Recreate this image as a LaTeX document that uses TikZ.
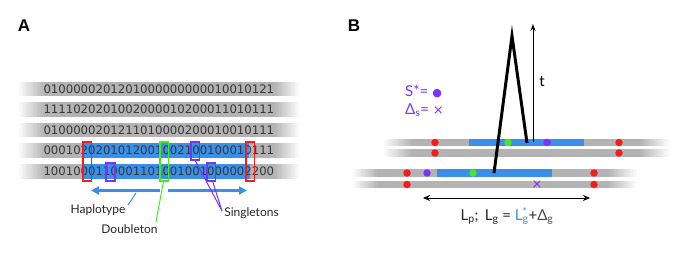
\documentclass[tikz,border=0pt]{standalone}
\usepackage{fontspec}
\usepackage{graphicx}
\setmainfont{Lato}
\newfontfamily\digitfont{DejaVu Sans}
\newfontfamily\symfont{DejaVu Sans}
\newfontfamily\headfont{Liberation Sans}
\usetikzlibrary{arrows.meta}
\definecolor{bargrey}{RGB}{179,179,179}
\definecolor{hapblue}{RGB}{58,143,232}
\definecolor{mkred}{RGB}{240,30,30}
\definecolor{mkgreen}{RGB}{70,235,35}
\definecolor{mkpurple}{RGB}{125,50,250}
\definecolor{digitgrey}{RGB}{55,55,55}
\tikzset{
  digitrow/.style={anchor=west,inner sep=0pt,text=digitgrey,font=\digitfont\fontsize{11.7}{12}\selectfont},
  markbox/.style={line width=1.3pt},
  lbl/.style={inner sep=0pt,font=\fontsize{12}{14}\selectfont,text=black!85},
  blbl/.style={inner sep=0pt,font=\fontsize{15}{17}\selectfont},
  panel/.style={inner sep=0pt,font=\headfont\bfseries\fontsize{17}{19}\selectfont},
  bluearrow/.style={hapblue,line width=2.4pt,-{Triangle[length=8pt,width=8pt]}},
  dot/.style={circle,inner sep=0pt,minimum size=7.5pt},
  lineage/.style={line width=3pt,line join=miter},
}
% #1 fade start, #2 solid start, #3 solid end, #4 fade end, #5 y centre, #6 half height
\newcommand\mygradbar[6]{%
  \fill[bargrey] (#2,#5-#6) rectangle (#3,#5+#6);
  \foreach \i in {0,...,19} {
    \pgfmathsetmacro\pa{5*\i+2.5}
    \fill[bargrey!\pa!white] ({#1+(#2-#1)*\i/20},#5-#6) rectangle ({#1+(#2-#1)*(\i+1)/20+0.3},#5+#6);
    \fill[bargrey!\pa!white] ({#4-(#4-#3)*\i/20},#5-#6) rectangle ({#4-(#4-#3)*(\i+1)/20-0.3},#5+#6);
  }%
}
\begin{document}
\begin{tikzpicture}[x=1pt,y=-1pt]
\useasboundingbox (0,0) rectangle (681,256);
% ---------------- Panel A ----------------
\node[panel] (labA) at (24,26) {A};
\mygradbar{18}{45}{274}{300}{89}{7.25}
\mygradbar{18}{45}{274}{300}{109.5}{7.25}
\mygradbar{18}{45}{274}{300}{130}{7.25}
\mygradbar{18}{45}{274}{300}{150.5}{7.25}
\mygradbar{18}{45}{274}{300}{171.5}{7.25}
\fill[hapblue] (84,150.5-7.25) rectangle (249,150.5+7.25);
\fill[hapblue] (84,171.5-7.25) rectangle (250,171.5+7.25);
\node[digitrow] (r1) at (43.3,89)    {0100000201201000000000010010121};
\node[digitrow] (r2) at (43.3,109.5) {1111020201002000010200011010111};
\node[digitrow] (r3) at (43.3,130)   {0100000201211010000200010010111};
\node[digitrow] (r4) at (43.3,150.5) {0001020201012001002100100010111};
\node[digitrow] (r5) at (43.3,171.5) {1001000110001101001001000002200};
% boxes
\draw[markbox,mkred] (83,142) rectangle (91.5,181);
\draw[markbox,mkred] (246,142) rectangle (254.7,181);
\draw[markbox,mkgreen] (160,142) rectangle (168.5,181);
\draw[markbox,mkpurple] (191,142) rectangle (199.5,160);
\draw[markbox,mkpurple] (106,163) rectangle (115,181);
\draw[markbox,mkpurple] (207,163) rectangle (215.5,181);
\coordinate (gbox) at (163.5,181);
\coordinate (pbox1) at (195,160);
\coordinate (pbox2) at (212.5,181);
% haplotype arrows
\coordinate (hapL) at (91,190.5);
\coordinate (hapM1) at (160,190.5);
\coordinate (hapM2) at (168,190.5);
\coordinate (hapR) at (247,190.5);
\draw[bluearrow] (hapM1) -- (hapL);
\draw[bluearrow] (hapM2) -- (hapR);
% labels
\node[lbl] (haplo) at (98,210) {Haplotype};
\node[lbl] (doub) at (129.5,229) {Doubleton};
\node[lbl] (sing) at (251.5,213) {Singletons};
\coordinate (haploend) at (128,205);
\coordinate (haplotip) at (136,193);
\draw[hapblue,line width=1pt] (haploend) -- (haplotip);
\coordinate (doubend) at (156,222);
\draw[mkgreen,line width=1pt] (doubend) -- (gbox);
\coordinate (singend) at (222,211);
\draw[mkpurple,line width=1pt] (singend) -- (pbox1);
\draw[mkpurple,line width=1pt] (singend) -- (pbox2);
% ---------------- Panel B ----------------
\node[panel] (labB) at (354,26) {B};
\mygradbar{383}{412}{640}{670}{142.5}{3.6}
\mygradbar{383}{412}{640}{670}{153}{3.6}
\mygradbar{352}{378}{608}{637}{173}{3.6}
\mygradbar{352}{378}{608}{637}{184.5}{3.6}
\fill[hapblue] (469,142.5-3.6) rectangle (584,142.5+3.6);
\fill[hapblue] (437,173-3.6) rectangle (552,173+3.6);
% dots
\node[dot,fill=mkred] (ra1) at (435,142.5) {};
\node[dot,fill=mkred] (ra2) at (435,153) {};
\node[dot,fill=mkred] (rb1) at (619,142.5) {};
\node[dot,fill=mkred] (rb2) at (619,153) {};
\node[dot,fill=mkred] (rc1) at (407,173) {};
\node[dot,fill=mkred] (rc2) at (407,184.5) {};
\node[dot,fill=mkred] (rd1) at (594,173) {};
\node[dot,fill=mkred] (rd2) at (594,184.5) {};
\node[dot,fill=mkgreen] (gu) at (508,142.5) {};
\node[dot,fill=mkpurple] (pu) at (547,142.5) {};
\node[dot,fill=mkpurple] (pl) at (427,173) {};
\node[dot,fill=mkgreen] (gl) at (473,173) {};
\node[inner sep=0pt,text=mkpurple,font=\symfont\fontsize{13}{13}\selectfont] (xl) at (537,184.5) {×};
% lineage
\coordinate (apex) at (512,36);
\coordinate (legL) at (494,173);
\coordinate (legR) at (527,143);
\draw[lineage] (legL) -- (apex) -- (legR);
% time arrow
\coordinate (tbot) at (533,142.5);
\coordinate (ttop) at (533,24);
\draw[line width=0.9pt,-{Stealth[length=7pt,width=5pt]}] (tbot) -- (ttop);
\node[blbl] (tlab) at (542,82) {t};
% legend
\node[blbl,anchor=west,text=mkpurple] (sstar) at (405,92) {S*= {\symfont\fontsize{11}{11}\selectfont ●}};
\node[blbl,anchor=west,text=mkpurple] (dels) at (405,110) {Δ\textsubscript{s}= {\symfont\fontsize{13}{13}\selectfont ×}};
% length arrow
\coordinate (lenL) at (423,198);
\coordinate (lenR) at (590,198);
\draw[line width=0.9pt,{Stealth[length=7pt,width=6pt]}-{Stealth[length=7pt,width=6pt]}] (lenL) -- (lenR);
\node[blbl,text=black!85] (lenlab) at (507,216) {L\textsubscript{p}; \,L\textsubscript{g} = \textcolor{hapblue}{L\rlap{\textsuperscript{*}}\textsubscript{g}}+\textcolor{black!70}{Δ\textsubscript{g}}};
\end{tikzpicture}
\end{document}
